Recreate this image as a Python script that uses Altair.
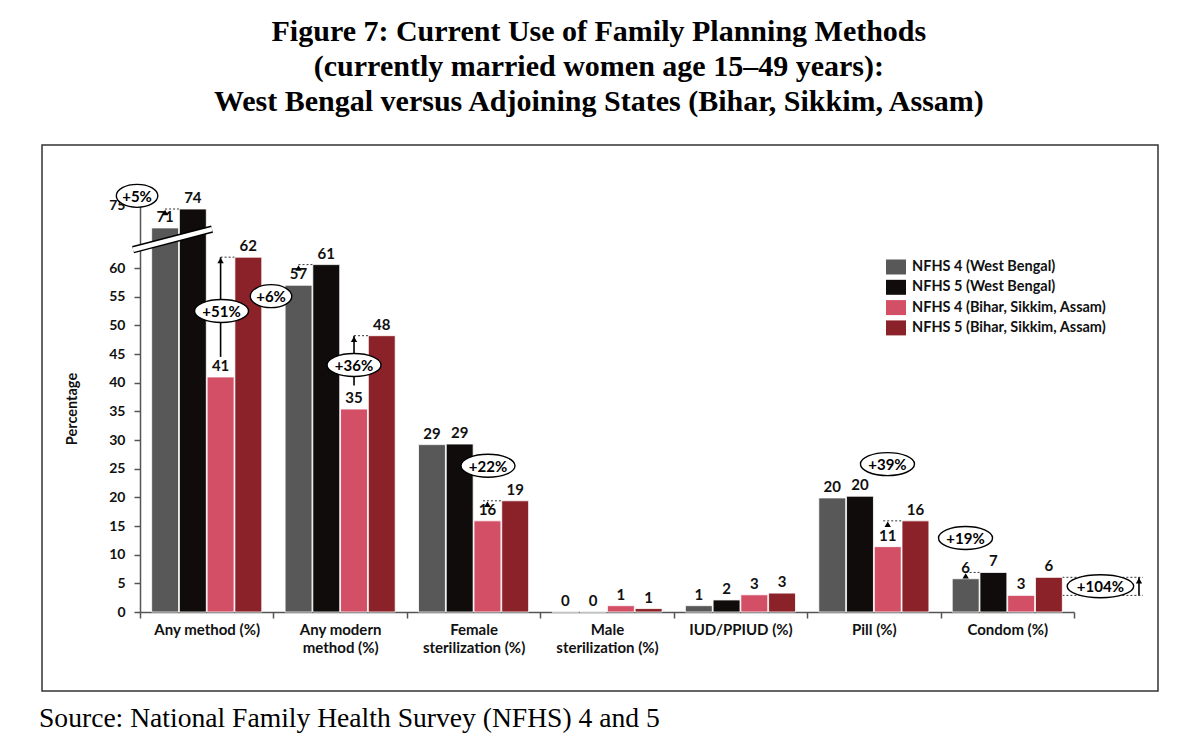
import altair as alt
import pandas as pd

# ---------------- data ----------------
categories = ["Any method (%)", "Any modern\nmethod (%)", "Female\nsterilization (%)",
              "Male\nsterilization (%)", "IUD/PPIUD (%)", "Pill (%)", "Condom (%)"]
series = ["NFHS 4 (West Bengal)", "NFHS 5 (West Bengal)",
          "NFHS 4 (Bihar, Sikkim, Assam)", "NFHS 5 (Bihar, Sikkim, Assam)"]
colors = ["#585858", "#0f0c0b", "#d24f66", "#8c2229"]

nfhs4_wb = [71.0, 57.0, 29.2, 0.0, 1.1, 19.9, 5.8]
nfhs5_wb = [74.3, 60.6, 29.3, 0.0, 2.1, 20.2, 6.9]
nfhs4_bsa = [41.0, 35.4, 15.9, 1.1, 3.0, 11.4, 2.9]
nfhs5_bsa = [61.9, 48.2, 19.4, 0.6, 3.3, 15.9, 6.05]

y_ticks = [0, 5, 10, 15, 20, 25, 30, 35, 40, 45, 50, 55, 60]
y_top_tick = 75
BREAK_AT = 64      # axis is broken above this value
BREAK_GAP = 4      # amount of axis removed by the break

# change annotations (position in category units, level in % units)
ann_text = ["+5%", "+51%", "+6%", "+36%", "+22%", "+39%", "+19%", "+104%"]
ann_pos = [-0.022, 0.611, 0.982, 1.604, 2.608, 5.602, 6.187, 7.198]
ann_val = [76.6, 52.5, 55.1, 43.1, 25.5, 25.8, 12.9, 4.5]

shaft_pos = [0.604, 1.604, 7.487]
shaft_from = [44.5, 39.5, 2.9]
shaft_to = [61.9, 48.2, 6.05]

head_pos = [0.188, 0.604, 1.188, 1.604, 2.604, 5.604, 6.188, 7.487]
head_tip = [74.3, 61.9, 60.6, 48.2, 19.4, 15.9, 6.9, 6.05]

dot_from = [0.188, 0.604, 1.188, 1.604, 2.57, 5.57, 6.188, 6.913, 6.913]
dot_to = [0.295, 0.711, 1.295, 1.711, 2.711, 5.711, 6.295, 7.517, 7.517]
dot_lvl = [74.3, 61.9, 60.6, 48.2, 19.4, 15.9, 6.9, 6.05, 2.9]

# axis-break band (category units, displayed axis units)
break_x = [-0.052, 0.54]
break_y = [63.2, 66.8]

title_lines = ["Figure 7: Current Use of Family Planning Methods",
               "(currently married women age 15\u201349 years):",
               "West Bengal versus Adjoining States (Bihar, Sikkim, Assam)"]
source_text = "Source: National Family Health Survey (NFHS) 4 and 5"

# ---------------- frames ----------------
rows = []
for s, vals in zip(series, [nfhs4_wb, nfhs5_wb, nfhs4_bsa, nfhs5_bsa]):
    for c, v in zip(categories, vals):
        rows.append({"category": c, "series": s, "value": v})
bars_df = pd.DataFrame(rows)

ann_df = pd.DataFrame({"t": ann_text, "pos": ann_pos, "val": ann_val})
shaft_df = pd.DataFrame({"pos": shaft_pos, "v0": shaft_from, "v1": shaft_to})
head_df = pd.DataFrame({"pos": head_pos, "tip": head_tip})
dot_df = pd.DataFrame({"p0": dot_from, "p1": dot_to, "lvl": dot_lvl})
break_df = pd.DataFrame({"p0": [break_x[0]], "p1": [break_x[1]], "y0": [break_y[0]], "y1": [break_y[1]]})
one_df = pd.DataFrame({"k": [0]})


def disp(f):
    return f"datum.{f} > {BREAK_AT} ? datum.{f} - {BREAK_GAP} : datum.{f}"


YMAX = y_top_tick - BREAK_GAP
yscale = alt.Scale(domain=[0, YMAX], nice=False, zero=True)
qx = alt.Scale(domain=[0, 7], nice=False, zero=False)

FONT = "Lato"
TXT = "#111111"
AX = "#555555"

yaxis = alt.Axis(values=y_ticks + [YMAX],
                 labelExpr=f"datum.value > {BREAK_AT} ? '' + (datum.value + {BREAK_GAP}) : datum.label",
                 title="Percentage", titleFont=FONT, titleFontWeight="bold",
                 titleFontSize=14.5, titleColor=TXT, titleX=-68, titleY=203.5,
                 titleAngle=270, titleAlign="center", titleBaseline="middle",
                 labelFont=FONT, labelFontWeight="bold", labelFontSize=14,
                 labelColor=TXT, labelPadding=9, tickSize=6, tickColor=AX,
                 tickWidth=1.5, domainColor=AX, domainWidth=1.5, grid=False, zindex=0)


def Y(field):
    return alt.Y(field, scale=yscale, axis=yaxis)


# ---------------- bars ----------------
x_band = alt.X("category:N", sort=categories,
               scale=alt.Scale(paddingInner=0, paddingOuter=0),
               axis=alt.Axis(title=None, labelAngle=0, labelExpr="split(datum.label, '\\n')",
                             tickBand="extent", labelFont=FONT, labelFontWeight="bold",
                             labelFontSize=15, labelColor=TXT, labelLineHeight=18,
                             labelPadding=4, tickSize=6, tickColor=AX, tickWidth=1.5,
                             domainColor=AX, domainWidth=1.5, zindex=0))
x_off = alt.XOffset("series:N", sort=series, scale=alt.Scale(paddingInner=0.03, paddingOuter=0.42))

bars = alt.Chart(bars_df).transform_calculate(disp=disp("value")).mark_bar(
    stroke="white", strokeWidth=0.8
).encode(
    x=x_band,
    xOffset=x_off,
    y=Y("disp:Q"),
    color=alt.Color("series:N", sort=series, scale=alt.Scale(domain=series, range=colors),
                    legend=alt.Legend(title=None, orient="none", legendX=746, legendY=52,
                                      symbolType="M-1,-0.75H1V0.75H-1Z", symbolSize=400,
                                      symbolStrokeWidth=0, symbolOpacity=1,
                                      labelFont=FONT, labelFontWeight="bold",
                                      labelFontSize=14.5, labelColor=TXT, labelLimit=400,
                                      rowPadding=2.3, labelOffset=6, padding=0)),
)

bar_labels = alt.Chart(bars_df).transform_calculate(
    disp=disp("value"), lbl="round(datum.value)"
).mark_text(dy=-3, baseline="bottom", font=FONT, fontWeight="bold", fontSize=15, color=TXT).encode(
    x=x_band,
    xOffset=x_off,
    y=Y("disp:Q"),
    text=alt.Text("lbl:Q", format="d"),
)

bar_layer = alt.layer(bars, bar_labels)

# ---------------- annotations ----------------
shafts = alt.Chart(shaft_df).transform_calculate(d0=disp("v0"), d1=disp("v1")).mark_rule(
    color="black", strokeWidth=1.6
).encode(
    x=alt.X("pos:Q", scale=qx, axis=None),
    y=Y("d0:Q"),
    y2="d1:Q",
)

dots = alt.Chart(dot_df).transform_calculate(d=disp("lvl")).mark_rule(
    color="#333333", strokeWidth=1, strokeDash=[2, 2]
).encode(
    x=alt.X("p0:Q", scale=qx, axis=None),
    x2="p1:Q",
    y=Y("d:Q"),
)

k = 0.5523
ellipses = alt.Chart(ann_df).transform_calculate(
    d=disp("val"),
    a="(4 + 12.5 * length(datum.t)) / 2",
    b="11.5",
).transform_calculate(
    ka=f"{k} * datum.a", kb=f"{k} * datum.b"
).transform_calculate(
    path="'M' + (-datum.a) + ',0C' + (-datum.a) + ',' + (-datum.kb) + ' ' + (-datum.ka) + ',' + (-datum.b) + ' 0,' + (-datum.b)"
         " + 'C' + datum.ka + ',' + (-datum.b) + ' ' + datum.a + ',' + (-datum.kb) + ' ' + datum.a + ',0'"
         " + 'C' + datum.a + ',' + datum.kb + ' ' + datum.ka + ',' + datum.b + ' 0,' + datum.b"
         " + 'C' + (-datum.ka) + ',' + datum.b + ' ' + (-datum.a) + ',' + datum.kb + ' ' + (-datum.a) + ',0Z'"
).mark_point(filled=True, fill="white", fillOpacity=1, stroke="black", strokeWidth=1.4,
             opacity=1, size=4).encode(
    x=alt.X("pos:Q", scale=qx, axis=None),
    y=Y("d:Q"),
    shape=alt.Shape("path:N", scale=None, legend=None),
)

ell_text = alt.Chart(ann_df).transform_calculate(d=disp("val")).mark_text(
    font=FONT, fontWeight="bold", fontSize=15, color="black", baseline="middle", dy=1
).encode(
    x=alt.X("pos:Q", scale=qx, axis=None),
    y=Y("d:Q"),
    text="t:N",
)

ann_under = alt.layer(shafts, dots)

band_black = alt.Chart(break_df).mark_rule(color="black", strokeWidth=7.5).encode(
    x=alt.X("p0:Q", scale=qx, axis=None), x2="p1:Q",
    y=Y("y0:Q"), y2="y1:Q",
)
band_white = alt.Chart(break_df).mark_rule(color="white", strokeWidth=4.5).encode(
    x=alt.X("p0:Q", scale=qx, axis=None), x2="p1:Q",
    y=Y("y0:Q"), y2="y1:Q",
)
heads = alt.Chart(head_df).transform_calculate(d=f"({disp('tip')}) - 0.6").mark_point(
    shape="triangle-up", filled=True, color="black", opacity=1, size=40
).encode(
    x=alt.X("pos:Q", scale=qx, axis=None),
    y=Y("d:Q"),
)

ann_over = alt.layer(ellipses, ell_text, band_black, band_white, heads)

# ---------------- frame & source ----------------
frame = alt.Chart(one_df).mark_rect(fill="white", fillOpacity=0, stroke="#333333", strokeWidth=1.5).encode(
    x=alt.value(-98), x2=alt.value(1018), y=alt.value(-60), y2=alt.value(486)
)
source = alt.Chart(one_df).mark_text(
    align="left", baseline="alphabetic", font="Liberation Serif", fontSize=27.6, color="black"
).encode(x=alt.value(-101), y=alt.value(522), text=alt.value(source_text))

chart = alt.layer(frame, source, ann_under, bar_layer, ann_over).resolve_scale(
    x="independent"
).properties(
    width=934, height=407,
    autosize=alt.AutoSizeParams(type="none"),
    padding={"left": 132, "top": 197, "right": 110, "bottom": 130},
    title=alt.Title(text=title_lines, font="Liberation Serif", fontSize=30, fontWeight="bold",
                    lineHeight=35, anchor="middle", frame="bounds", offset=27, color="black"),
).configure_view(stroke="transparent")

chart.save("out.html", embed_options={"renderer": "svg", "actions": False})
